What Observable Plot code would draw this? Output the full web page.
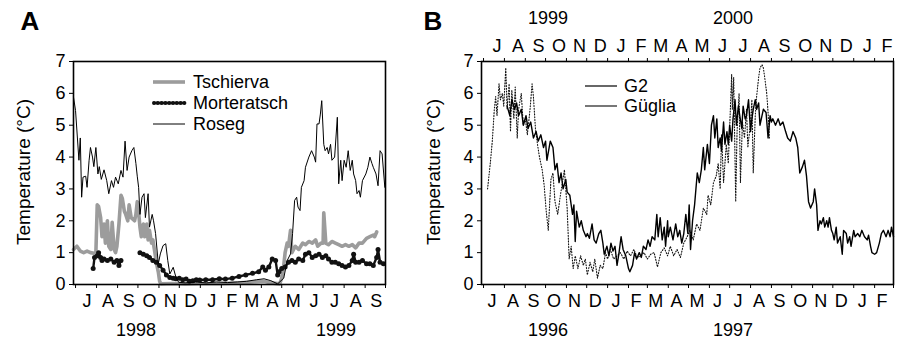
<!DOCTYPE html>
<html><head><meta charset="utf-8">
<script src="https://cdn.jsdelivr.net/npm/d3@7"></script>
<script src="https://cdn.jsdelivr.net/npm/@observablehq/plot@0.6"></script>
<style>
html,body{margin:0;padding:0;background:#fff;}
#wrap{position:relative;width:904px;height:341px;overflow:hidden;font-family:"Liberation Sans",Arial,Helvetica,sans-serif;}
#wrap svg{position:absolute;top:0;}
</style></head>
<body><div id="wrap"></div>
<script>
// ---------- Panel A data (1998-1999) ----------
const tschierva = [["1998-06-28",1.1],["1998-07-03",1.2],["1998-07-08",1.05],["1998-07-13",1.0],["1998-07-18",1.05],["1998-07-23",1.0],["1998-07-28",0.98],["1998-07-31",1.0],["1998-08-02",2.5],["1998-08-04",2.45],["1998-08-07",2.1],["1998-08-09",1.5],["1998-08-12",1.9],["1998-08-14",1.3],["1998-08-17",2.0],["1998-08-19",1.2],["1998-08-22",1.1],["1998-08-24",1.95],["1998-08-27",1.1],["1998-08-29",1.0],["1998-08-31",1.2],["1998-09-03",1.9],["1998-09-06",2.8],["1998-09-08",2.7],["1998-09-11",2.3],["1998-09-13",2.2],["1998-09-16",2.0],["1998-09-18",2.5],["1998-09-21",2.1],["1998-09-26",2.0],["1998-09-28",2.2],["1998-09-30",2.6],["1998-10-01",2.5],["1998-10-04",1.8],["1998-10-06",1.5],["1998-10-09",1.9],["1998-10-11",1.5],["1998-10-14",1.9],["1998-10-16",1.4],["1998-10-18",1.7],["1998-10-21",1.3],["1998-10-23",1.4],["1998-10-26",1.0],["1998-10-28",0.7],["1998-10-31",0.4],["1998-11-02",0.1],["1998-11-04",0.02],["1998-11-20",0.03],["1998-12-10",0.02],["1999-01-01",0.03],["1999-02-01",0.03],["1999-03-01",0.05],["1999-03-20",0.08],["1999-04-05",0.1],["1999-04-15",0.05],["1999-04-28",0.02],["1999-05-01",0.2],["1999-05-04",0.6],["1999-05-06",1.0],["1999-05-09",1.3],["1999-05-11",1.2],["1999-05-14",1.7],["1999-05-16",1.0],["1999-05-21",1.2],["1999-05-26",1.1],["1999-06-01",1.3],["1999-06-05",1.25],["1999-06-10",1.35],["1999-06-15",1.3],["1999-06-20",1.4],["1999-06-23",1.2],["1999-06-28",1.3],["1999-07-01",1.3],["1999-07-02",2.25],["1999-07-05",1.3],["1999-07-09",1.25],["1999-07-14",1.35],["1999-07-19",1.3],["1999-07-24",1.25],["1999-07-29",1.2],["1999-08-03",1.25],["1999-08-08",1.2],["1999-08-13",1.25],["1999-08-18",1.15],["1999-08-23",1.3],["1999-08-28",1.3],["1999-09-03",1.45],["1999-09-08",1.5],["1999-09-13",1.55],["1999-09-15",1.5],["1999-09-18",1.65]];

const morteratsch = [["1998-07-27",0.5],["1998-07-29",0.85],["1998-08-02",0.9],["1998-08-04",1.0],["1998-08-07",0.85],["1998-08-09",0.75],["1998-08-12",0.8],["1998-08-17",0.75],["1998-08-22",0.8],["1998-08-27",0.7],["1998-08-31",0.75],["1998-09-03",0.6],["1998-09-06",0.75],["1998-09-07",null],["1998-10-04",1.0],["1998-10-09",0.95],["1998-10-14",0.9],["1998-10-18",0.85],["1998-10-23",0.75],["1998-10-28",0.7],["1998-11-02",0.6],["1998-11-07",0.45],["1998-11-12",0.3],["1998-11-17",0.22],["1998-11-22",0.2],["1998-11-26",0.18],["1998-12-01",0.2],["1998-12-06",0.15],["1998-12-11",0.17],["1998-12-16",0.1],["1998-12-21",0.12],["1998-12-26",0.15],["1998-12-31",0.14],["1999-01-09",0.15],["1999-01-19",0.15],["1999-01-29",0.18],["1999-02-07",0.17],["1999-02-17",0.2],["1999-02-27",0.25],["1999-03-09",0.3],["1999-03-19",0.35],["1999-03-28",0.4],["1999-04-03",0.55],["1999-04-07",0.45],["1999-04-12",0.55],["1999-04-17",0.8],["1999-04-22",0.75],["1999-04-25",0.3],["1999-04-27",0.4],["1999-05-01",0.5],["1999-05-06",0.55],["1999-05-11",0.7],["1999-05-16",0.75],["1999-05-21",0.7],["1999-05-26",0.8],["1999-06-01",0.75],["1999-06-05",0.95],["1999-06-10",1.0],["1999-06-15",0.85],["1999-06-20",0.9],["1999-06-25",0.95],["1999-06-30",0.85],["1999-07-05",0.9],["1999-07-09",0.8],["1999-07-14",0.7],["1999-07-19",0.7],["1999-07-24",0.65],["1999-07-29",0.6],["1999-08-03",0.55],["1999-08-08",0.6],["1999-08-13",0.75],["1999-08-15",0.95],["1999-08-18",0.7],["1999-08-23",0.7],["1999-08-28",0.75],["1999-09-03",0.65],["1999-09-08",0.65],["1999-09-13",0.6],["1999-09-18",0.85],["1999-09-20",1.1],["1999-09-23",0.7],["1999-09-28",0.65]];

const roseg = [["1998-06-28",5.88],["1998-07-01",5.46],["1998-07-06",3.9],["1998-07-08",4.6],["1998-07-10",2.74],["1998-07-12",3.37],["1998-07-16",3.4],["1998-07-18",3.05],["1998-07-21",3.9],["1998-07-23",4.3],["1998-07-26",4.0],["1998-07-28",3.7],["1998-07-31",4.3],["1998-08-03",3.47],["1998-08-05",3.7],["1998-08-08",3.3],["1998-08-12",3.6],["1998-08-16",3.26],["1998-08-19",2.85],["1998-08-23",3.26],["1998-08-26",3.05],["1998-08-29",3.37],["1998-09-02",3.16],["1998-09-06",3.58],["1998-09-09",3.37],["1998-09-12",4.5],["1998-09-15",3.58],["1998-09-18",4.0],["1998-09-22",4.2],["1998-09-25",4.3],["1998-09-28",3.8],["1998-09-30",3.4],["1998-10-02",3.05],["1998-10-04",2.2],["1998-10-07",2.74],["1998-10-10",2.85],["1998-10-12",2.1],["1998-10-16",2.85],["1998-10-18",1.8],["1998-10-22",2.2],["1998-10-24",2.0],["1998-10-27",1.6],["1998-10-31",0.65],["1998-11-03",0.96],["1998-11-07",1.22],["1998-11-11",1.28],["1998-11-14",0.75],["1998-11-17",0.33],["1998-11-22",0.54],["1998-11-26",0.23],["1998-11-30",0.07],["1998-12-10",0.05],["1998-12-25",0.08],["1999-01-10",0.05],["1999-01-25",0.08],["1999-02-10",0.06],["1999-02-25",0.08],["1999-03-10",0.1],["1999-03-25",0.15],["1999-04-05",0.18],["1999-04-15",0.12],["1999-04-25",0.02],["1999-05-04",0.2],["1999-05-09",0.75],["1999-05-14",0.96],["1999-05-17",1.6],["1999-05-20",2.64],["1999-05-23",2.74],["1999-05-25",2.43],["1999-05-28",2.32],["1999-05-30",3.05],["1999-06-03",3.26],["1999-06-05",3.68],["1999-06-10",4.0],["1999-06-14",4.2],["1999-06-18",4.0],["1999-06-20",3.84],["1999-06-22",5.04],["1999-06-25",5.04],["1999-06-27",5.35],["1999-06-29",5.77],["1999-07-02",4.4],["1999-07-04",4.2],["1999-07-07",4.3],["1999-07-09",4.1],["1999-07-12",4.4],["1999-07-14",3.9],["1999-07-18",4.0],["1999-07-22",5.25],["1999-07-24",3.16],["1999-07-27",3.9],["1999-07-29",3.26],["1999-08-01",3.9],["1999-08-04",3.68],["1999-08-07",4.2],["1999-08-10",3.58],["1999-08-13",3.9],["1999-08-15",3.47],["1999-08-18",3.26],["1999-08-20",2.85],["1999-08-23",2.95],["1999-08-25",2.74],["1999-08-28",3.26],["1999-09-02",3.47],["1999-09-05",3.68],["1999-09-08",4.0],["1999-09-11",3.8],["1999-09-13",3.68],["1999-09-17",3.47],["1999-09-20",3.1],["1999-09-23",4.2],["1999-09-26",4.1],["1999-09-30",3.05]];

// ---------- Panel B data ----------
// G2: 1996-1998 (bottom axis)
const g2 = [["1996-08-05",5.6],["1996-08-09",5.3],["1996-08-12",5.8],["1996-08-16",5.5],["1996-08-19",5.7],["1996-08-22",5.3],["1996-08-26",5.5],["1996-08-29",5.0],["1996-09-02",5.3],["1996-09-05",4.9],["1996-09-09",5.1],["1996-09-13",4.6],["1996-09-17",4.8],["1996-09-20",4.5],["1996-09-24",4.7],["1996-09-28",4.3],["1996-10-01",4.5],["1996-10-03",3.9],["1996-10-08",4.5],["1996-10-12",4.3],["1996-10-15",3.6],["1996-10-18",3.8],["1996-10-21",3.2],["1996-10-24",3.5],["1996-10-27",3.0],["1996-10-31",3.3],["1996-11-02",2.9],["1996-11-06",2.8],["1996-11-10",2.2],["1996-11-12",2.5],["1996-11-14",1.35],["1996-11-16",2.3],["1996-11-20",1.8],["1996-11-23",2.0],["1996-11-26",1.7],["1996-11-30",1.5],["1996-12-02",1.6],["1996-12-05",1.45],["1996-12-09",1.9],["1996-12-12",1.4],["1996-12-15",1.3],["1996-12-19",1.6],["1996-12-22",1.7],["1996-12-25",1.3],["1996-12-27",0.95],["1996-12-31",1.2],["1997-01-03",0.9],["1997-01-06",1.3],["1997-01-09",1.05],["1997-01-12",1.2],["1997-01-15",0.6],["1997-01-18",1.0],["1997-01-21",1.5],["1997-01-24",1.1],["1997-01-28",0.9],["1997-02-01",0.5],["1997-02-03",0.4],["1997-02-07",0.6],["1997-02-10",1.0],["1997-02-13",0.8],["1997-02-17",1.0],["1997-02-20",0.85],["1997-02-23",1.2],["1997-02-27",1.1],["1997-03-02",1.4],["1997-03-05",1.2],["1997-03-08",1.5],["1997-03-12",1.4],["1997-03-15",2.2],["1997-03-17",1.5],["1997-03-20",2.1],["1997-03-23",1.4],["1997-03-26",1.8],["1997-03-28",1.2],["1997-03-31",2.0],["1997-04-01",1.5],["1997-04-04",1.8],["1997-04-08",1.4],["1997-04-12",1.9],["1997-04-15",1.5],["1997-04-18",1.7],["1997-04-21",1.3],["1997-04-24",1.6],["1997-04-27",2.2],["1997-04-30",1.6],["1997-05-02",2.5],["1997-05-04",1.1],["1997-05-07",2.0],["1997-05-10",2.5],["1997-05-14",3.5],["1997-05-17",3.2],["1997-05-20",3.6],["1997-05-23",4.3],["1997-05-25",3.6],["1997-05-29",4.4],["1997-06-01",3.8],["1997-06-04",5.0],["1997-06-07",5.3],["1997-06-09",4.6],["1997-06-12",5.2],["1997-06-14",4.3],["1997-06-17",4.6],["1997-06-19",4.2],["1997-06-22",5.1],["1997-06-24",4.4],["1997-06-27",4.8],["1997-06-29",4.4],["1997-07-01",5.0],["1997-07-04",4.5],["1997-07-06",5.2],["1997-07-09",5.8],["1997-07-11",5.0],["1997-07-14",5.6],["1997-07-16",5.3],["1997-07-19",4.9],["1997-07-21",5.6],["1997-07-24",5.2],["1997-07-26",5.3],["1997-07-29",5.8],["1997-08-01",4.8],["1997-08-03",5.2],["1997-08-05",5.5],["1997-08-08",5.8],["1997-08-10",5.5],["1997-08-13",5.7],["1997-08-15",5.0],["1997-08-18",5.3],["1997-08-20",5.5],["1997-08-24",5.4],["1997-08-27",4.6],["1997-08-30",5.3],["1997-09-01",5.1],["1997-09-03",5.2],["1997-09-07",5.0],["1997-09-11",5.2],["1997-09-14",5.0],["1997-09-18",5.1],["1997-09-22",4.8],["1997-09-25",4.6],["1997-09-29",4.5],["1997-10-03",4.8],["1997-10-07",4.6],["1997-10-10",4.3],["1997-10-13",3.5],["1997-10-17",3.7],["1997-10-20",3.9],["1997-10-23",3.4],["1997-10-26",2.6],["1997-10-29",2.4],["1997-11-02",2.6],["1997-11-04",3.0],["1997-11-07",2.5],["1997-11-09",1.7],["1997-11-12",2.0],["1997-11-14",1.9],["1997-11-17",2.1],["1997-11-19",1.8],["1997-11-22",2.0],["1997-11-24",1.8],["1997-11-26",2.1],["1997-11-29",1.7],["1997-12-01",1.6],["1997-12-03",1.4],["1997-12-06",1.8],["1997-12-08",1.3],["1997-12-12",1.5],["1997-12-15",0.95],["1997-12-17",1.7],["1997-12-21",1.6],["1997-12-23",1.3],["1997-12-26",1.5],["1997-12-28",1.2],["1998-01-01",1.7],["1998-01-03",1.5],["1998-01-07",1.6],["1998-01-10",1.5],["1998-01-13",1.7],["1998-01-17",1.5],["1998-01-21",1.4],["1998-01-23",1.55],["1998-01-26",1.2],["1998-01-28",1.0],["1998-02-01",0.95],["1998-02-04",1.0],["1998-02-08",1.3],["1998-02-11",1.6],["1998-02-14",1.7],["1998-02-18",1.5],["1998-02-21",1.7],["1998-02-24",1.5],["1998-02-26",1.8],["1998-03-01",1.5]];

// Güglia: 1999-2000 (top axis)
const guglia = [["1999-07-07",3.0],["1999-07-11",3.8],["1999-07-14",4.5],["1999-07-17",5.5],["1999-07-19",5.9],["1999-07-21",5.3],["1999-07-24",6.3],["1999-07-26",5.8],["1999-07-29",6.0],["1999-07-31",5.6],["1999-08-03",6.8],["1999-08-05",5.5],["1999-08-08",6.3],["1999-08-10",4.8],["1999-08-12",6.1],["1999-08-15",5.2],["1999-08-17",6.2],["1999-08-20",4.6],["1999-08-22",5.5],["1999-08-26",6.0],["1999-08-29",5.0],["1999-09-01",5.2],["1999-09-04",4.7],["1999-09-08",5.5],["1999-09-11",6.3],["1999-09-13",5.9],["1999-09-16",4.9],["1999-09-19",4.4],["1999-09-22",4.0],["1999-09-26",3.6],["1999-09-29",3.1],["1999-10-02",2.3],["1999-10-05",1.7],["1999-10-09",3.3],["1999-10-12",3.5],["1999-10-15",2.6],["1999-10-19",2.2],["1999-10-23",2.8],["1999-10-26",3.2],["1999-10-29",3.6],["1999-11-02",2.4],["1999-11-05",0.8],["1999-11-08",1.2],["1999-11-11",0.5],["1999-11-14",0.9],["1999-11-18",0.5],["1999-11-22",0.9],["1999-11-26",0.6],["1999-11-29",0.8],["1999-12-02",0.3],["1999-12-06",0.7],["1999-12-10",0.4],["1999-12-13",0.8],["1999-12-17",0.2],["1999-12-21",0.6],["1999-12-25",0.5],["1999-12-29",1.0],["2000-01-01",0.8],["2000-01-05",1.1],["2000-01-10",0.8],["2000-01-15",0.9],["2000-01-20",1.0],["2000-01-25",0.8],["2000-01-30",1.05],["2000-02-04",0.9],["2000-02-09",1.1],["2000-02-14",0.85],["2000-02-19",0.9],["2000-02-24",1.0],["2000-03-01",0.8],["2000-03-06",0.95],["2000-03-11",1.0],["2000-03-16",0.55],["2000-03-21",1.0],["2000-03-26",1.15],["2000-03-31",0.9],["2000-04-04",1.2],["2000-04-09",0.9],["2000-04-14",1.1],["2000-04-19",0.85],["2000-04-24",1.3],["2000-04-29",1.5],["2000-05-03",1.7],["2000-05-08",1.4],["2000-05-13",1.9],["2000-05-18",1.7],["2000-05-23",2.4],["2000-05-28",2.2],["2000-05-30",2.8],["2000-06-03",2.5],["2000-06-07",3.2],["2000-06-11",3.4],["2000-06-14",3.8],["2000-06-17",3.0],["2000-06-19",4.7],["2000-06-22",3.2],["2000-06-26",4.4],["2000-06-29",3.8],["2000-07-01",4.9],["2000-07-04",6.6],["2000-07-05",5.5],["2000-07-07",6.5],["2000-07-10",2.6],["2000-07-12",4.8],["2000-07-15",6.0],["2000-07-17",3.2],["2000-07-20",5.1],["2000-07-23",4.6],["2000-07-26",5.5],["2000-07-28",4.3],["2000-08-01",5.1],["2000-08-03",5.8],["2000-08-05",3.5],["2000-08-08",5.3],["2000-08-10",5.9],["2000-08-13",6.5],["2000-08-15",6.8],["2000-08-18",6.9],["2000-08-20",6.8],["2000-08-22",6.5],["2000-08-25",6.0],["2000-08-27",5.4],["2000-08-29",4.6]];

const monthLetters = ["J","F","M","A","M","J","J","A","S","O","N","D"];
const yTicks = [0,1,2,3,4,5,6,7];
const seriesA = ["Tschierva","Morteratsch","Roseg"];
const seriesB = ["G2","Güglia"];
const yearsA = ["1998","1999"];
const yearsBbottom = ["1996","1997"];
const yearsBtop = ["1999","2000"];
const yTitle = "Temperature (°C)";

// ---------- helpers ----------
const parse = d3.utcParse("%Y-%m-%d");
const toRows = arr => arr.map(([d,v]) => ({date: parse(d), v}));
const FONT = "Liberation Sans, Arial, Helvetica, sans-serif";

function monthTicks(a, b){
  const starts = d3.utcMonth.range(parse(a), parse(b));
  const mids = starts.slice(0,-1).map((m,i)=> new Date((+m + +starts[i+1])/2));
  return {starts, mids};
}

const wrap = document.getElementById("wrap");
const intFmt = d => String(d);

// ---------- Panel A ----------
{
  const domain = [parse("1998-06-28"), parse("1999-10-01")];
  const {starts, mids} = monthTicks("1998-07-01", "1999-10-02");
  const plot = Plot.plot({
    width: 410, height: 341,
    marginLeft: 73, marginRight: 25, marginTop: 61, marginBottom: 57,
    style: {fontFamily: FONT, fontSize: "18px", color: "#000", background: "transparent"},
    x: {type: "utc", domain},
    y: {domain: [0, 7]},
    marks: [
      Plot.line(toRows(tschierva), {x: "date", y: "v", stroke: "#9c9c9c", strokeWidth: 3.6, curve: "linear"}),
      Plot.line(toRows(morteratsch), {x: "date", y: "v", stroke: "#111", strokeWidth: 2.4}),
      Plot.dot(toRows(morteratsch).filter(d => d.v != null), {x: "date", y: "v", r: 2.5, fill: "#111", stroke: null}),
      Plot.line(toRows(roseg), {x: "date", y: "v", stroke: "#000", strokeWidth: 1}),
      Plot.frame({stroke: "#000", strokeWidth: 1.6}),
      Plot.axisY({ticks: yTicks, tickSize: 4, tickPadding: 4, tickFormat: intFmt, label: null, fontSize: 18}),
      Plot.axisX({ticks: starts, tickSize: 4, tickFormat: () => "", label: null}),
      Plot.axisX({ticks: mids, tickSize: 0, tickPadding: 10, tickFormat: d => monthLetters[d.getUTCMonth()], label: null, fontSize: 18, dx: 1})
    ]
  });
  plot.style.left = "0px";
  wrap.appendChild(plot);
}

// ---------- Panel B ----------
{
  const domain = [parse("1996-06-28"), parse("1998-03-01")];
  const {starts, mids} = monthTicks("1996-07-01", "1998-03-02");
  const shift3 = d => d3.utcYear.offset(d, -3);
  const plot = Plot.plot({
    width: 494, height: 341,
    marginLeft: 71, marginRight: 11, marginTop: 61, marginBottom: 57,
    style: {fontFamily: FONT, fontSize: "18px", color: "#000", background: "transparent"},
    x: {type: "utc", domain},
    y: {domain: [0, 7]},
    marks: [
      Plot.line(toRows(guglia), {x: d => shift3(d.date), y: "v", stroke: "#111", strokeWidth: 1.1, strokeDasharray: "1,1.8"}),
      Plot.line(toRows(g2), {x: "date", y: "v", stroke: "#000", strokeWidth: 1.4}),
      Plot.frame({stroke: "#000", strokeWidth: 1.6}),
      Plot.axisY({ticks: yTicks, tickSize: 4, tickPadding: 4, tickFormat: intFmt, label: null, fontSize: 18}),
      Plot.axisX({ticks: starts, tickSize: 4, tickFormat: () => "", label: null}),
      Plot.axisX({ticks: mids, tickSize: 0, tickPadding: 10, tickFormat: d => monthLetters[d.getUTCMonth()], label: null, fontSize: 18, dx: -2}),
      Plot.axisX({anchor: "top", ticks: starts, tickSize: 4, tickFormat: () => "", label: null}),
      Plot.axisX({anchor: "top", ticks: mids, tickSize: 0, tickPadding: 10, tickFormat: d => monthLetters[d.getUTCMonth()], label: null, fontSize: 18, dx: 3})
    ]
  });
  plot.style.left = "410px";
  wrap.appendChild(plot);
}

// ---------- Annotations (panel letters, titles, years, legends) ----------
{
  const svg = d3.create("svg").attr("width", 904).attr("height", 341)
    .style("left", "0px").style("font-family", FONT).style("pointer-events", "none");
  svg.append("text").attr("x", 30).attr("y", 30).attr("text-anchor", "middle")
    .attr("font-size", 26).attr("font-weight", "bold").text("A");
  svg.append("text").attr("x", 433).attr("y", 30).attr("text-anchor", "middle")
    .attr("font-size", 26).attr("font-weight", "bold").text("B");
  for (const x of [23, 433]) {
    svg.append("text").attr("transform", `translate(${x},172) rotate(-90)`)
      .attr("text-anchor", "middle").attr("dominant-baseline", "central")
      .attr("font-size", 19).text(yTitle);
  }
  const year = (x, y, t) => svg.append("text").attr("x", x).attr("y", y)
    .attr("text-anchor", "middle").attr("dominant-baseline", "central").attr("font-size", 18).text(t);
  year(136, 330, yearsA[0]); year(336, 330, yearsA[1]);
  year(548, 330, yearsBbottom[0]); year(733, 330, yearsBbottom[1]);
  year(548, 18, yearsBtop[0]); year(733, 18, yearsBtop[1]);

  // Legend A
  const lgA = [{y: 82, name: seriesA[0]}, {y: 103, name: seriesA[1]}, {y: 124, name: seriesA[2]}];
  svg.append("line").attr("x1", 153).attr("x2", 185).attr("y1", lgA[0].y).attr("y2", lgA[0].y)
    .attr("stroke", "#9c9c9c").attr("stroke-width", 3.6);
  svg.append("line").attr("x1", 153).attr("x2", 185).attr("y1", lgA[1].y).attr("y2", lgA[1].y)
    .attr("stroke", "#111").attr("stroke-width", 2.6);
  for (let i = 0; i < 9; i++) svg.append("circle").attr("cx", 154 + i * 3.8).attr("cy", lgA[1].y).attr("r", 2).attr("fill", "#111");
  svg.append("line").attr("x1", 153).attr("x2", 185).attr("y1", lgA[2].y).attr("y2", lgA[2].y)
    .attr("stroke", "#000").attr("stroke-width", 1);
  for (const l of lgA) svg.append("text").attr("x", 193).attr("y", l.y).attr("dominant-baseline", "central")
    .attr("font-size", 18).text(l.name);

  // Legend B
  const lgB = [{y: 86, name: seriesB[0], c: "#000", w: 1.2}, {y: 106, name: seriesB[1], c: "#777", w: 2}];
  for (const l of lgB) {
    svg.append("line").attr("x1", 585).attr("x2", 617).attr("y1", l.y).attr("y2", l.y)
      .attr("stroke", l.c).attr("stroke-width", l.w);
    svg.append("text").attr("x", 624).attr("y", l.y).attr("dominant-baseline", "central")
      .attr("font-size", 18).text(l.name);
  }
  wrap.appendChild(svg.node());
}
</script>
</body></html>
